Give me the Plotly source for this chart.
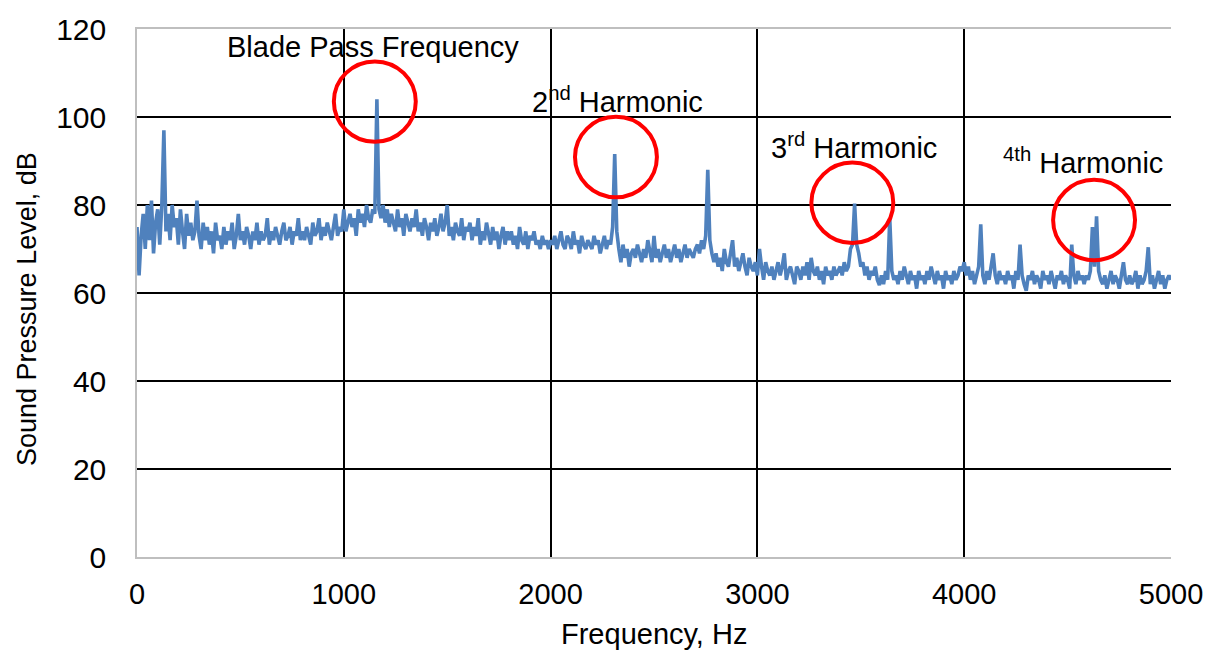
import plotly.graph_objects as go

# Frequency grid step (Hz) and SPL values (dB), 0..5000 Hz
df = 10
spl_0_990 = [
    75, 64, 73, 78, 70, 80, 72, 81, 69, 76, 79, 71, 80, 97, 74, 78, 72, 80, 75, 77,
    71, 79, 74, 70, 78, 73, 76, 72, 74, 81, 73, 70, 76, 72, 75, 71, 74, 69, 76, 72,
    73, 70, 75, 71, 74, 72, 76, 70, 73, 78, 72, 74, 71, 75, 73, 70, 74, 72, 76, 71,
    74, 72, 73, 77, 71, 74, 72, 75, 73, 71, 74, 76, 72, 73, 75, 71, 74, 73, 77, 72,
    74, 72, 75, 73, 71, 76, 73, 74, 77, 72, 75, 73, 76, 74, 72, 75, 78, 73, 75, 74,
]
spl_1000_1990 = [
    79, 74, 76, 78, 75, 77, 73, 79, 76, 78, 75, 80, 77, 76, 79, 78, 104, 79, 77, 80,
    76, 79, 75, 78, 76, 74, 79, 75, 77, 73, 78, 76, 74, 77, 75, 79, 74, 76, 73, 77,
    75, 72, 76, 74, 77, 73, 75, 78, 74, 76, 80, 73, 75, 72, 76, 74, 73, 77, 72, 75,
    74, 76, 72, 75, 73, 77, 71, 74, 72, 76, 73, 71, 75, 72, 74, 70, 73, 75, 71, 74,
    72, 74, 71, 73, 70, 75, 72, 71, 74, 70, 73, 72, 74, 71, 72, 70, 73, 71, 72, 70,
]
spl_2000_2990 = [
    72, 71, 73, 70, 72, 74, 71, 70, 73, 72, 70, 74, 71, 72, 69, 73, 71, 70, 72, 71,
    70, 73, 71, 72, 69, 71, 73, 70, 72, 71, 75, 91.6, 74, 70, 67, 71, 68, 70, 66, 69,
    70, 68, 71, 69, 67, 70, 68, 72, 69, 67, 73, 68, 70, 67, 69, 71, 68, 70, 67, 69,
    71, 68, 70, 67, 69, 71, 68, 70, 69, 68, 70, 71, 69, 72, 70, 73, 88, 72, 69, 67,
    69, 66, 68, 65, 70, 67, 66, 69, 72, 66, 68, 65, 67, 69, 66, 64, 68, 66, 65, 67,
]
spl_3000_3990 = [
    64, 70, 66, 63, 67, 65, 64, 66, 63, 65, 67, 64, 66, 69, 63, 65, 66, 64, 62, 66,
    65, 63, 66, 64, 67, 63, 68, 65, 64, 66, 63, 65, 62, 66, 64, 65, 63, 66, 64, 65,
    66, 64, 67, 65, 66, 70, 71, 80.3, 71, 69, 66, 67, 64, 66, 63, 65, 64, 66, 63, 61.8,
    64, 62, 65, 63, 77, 65, 63, 64, 62, 65, 63, 66, 64, 62, 65, 63, 64, 61, 65, 63,
    64, 62, 65, 63, 66, 64, 62, 65, 63, 64, 61, 65, 63, 64, 62, 65, 63, 64, 66, 65,
]
spl_4000_5000 = [
    67, 64, 66, 63, 65, 62, 64, 66, 75.6, 64, 62, 65, 63, 66, 69, 64, 62, 65, 63, 64,
    62, 65, 63, 64, 61, 65, 63, 71, 64, 62, 60.5, 64, 63, 65, 62, 64, 63, 61, 65, 63,
    64, 62, 65, 63, 61, 64, 63, 65, 62, 64, 63, 61, 71, 64, 62, 65, 63, 64, 62, 64,
    63, 65, 75, 66, 77.4, 65, 63, 62, 64, 61, 63, 65, 62, 64, 63, 61, 64, 67, 63, 62,
    64, 62, 63, 65, 61, 64, 62, 63, 65, 70.4, 62, 64, 61, 63, 65, 62, 64, 61, 63, 64,
    63,
]
spl = spl_0_990 + spl_1000_1990 + spl_2000_2990 + spl_3000_3990 + spl_4000_5000
freq = [i * df for i in range(len(spl))]

x_ticks = [0, 1000, 2000, 3000, 4000, 5000]
y_ticks = [0, 20, 40, 60, 80, 100, 120]

labels = ["Blade Pass Frequency", "2<sup>nd</sup> Harmonic",
          "3<sup>rd</sup> Harmonic", "<sup>4th</sup> Harmonic"]
label_x = [425, 1899, 3058, 4179]
label_y = [115.9, 103.8, 93.5, 89.9]

circle_cx = [1150, 2316, 3459, 4628]
circle_cy = [103.5, 90.9, 80.5, 76.6]

FONT = "Arial, Liberation Sans, sans-serif"
rx = 41 / 0.207     # Hz
ry = 40.5 / 4.4333  # dB

fig = go.Figure()
fig.add_trace(go.Scatter(x=freq, y=spl, mode="lines",
                         line=dict(color="#4F81BD", width=3.6),
                         showlegend=False))

for cx, cy in zip(circle_cx, circle_cy):
    fig.add_shape(type="circle", xref="x", yref="y",
                  x0=cx - rx, x1=cx + rx, y0=cy - ry, y1=cy + ry,
                  line=dict(color="#FF0000", width=4))

for t, x, y in zip(labels, label_x, label_y):
    fig.add_annotation(x=x, y=y, xref="x", yref="y", text=t, showarrow=False,
                       xanchor="left", yanchor="middle",
                       font=dict(family=FONT, size=29, color="#000000"))

fig.add_annotation(x=(27 - 137) / 1035, y=(557 - 307) / 532, xref="paper", yref="paper",
                   text="Sound Pressure Level, dB", textangle=-90, showarrow=False,
                   xanchor="center", yanchor="middle",
                   font=dict(family=FONT, size=27, color="#000000"))
fig.add_annotation(x=0.5, y=(557 - 635) / 532, xref="paper", yref="paper",
                   text="Frequency, Hz", showarrow=False,
                   xanchor="center", yanchor="middle",
                   font=dict(family=FONT, size=29, color="#000000"))

fig.update_layout(
    width=1215, height=652,
    margin=dict(l=137, r=43, t=25, b=95),
    paper_bgcolor="white", plot_bgcolor="white",
    font=dict(family=FONT, color="#000000"),
)
fig.update_xaxes(range=[0, 5000], tickvals=x_ticks, ticktext=[str(v) for v in x_ticks],
                 showgrid=True, gridcolor="#000000", gridwidth=1.5,
                 zeroline=False, showline=True, linecolor="#BFBFBF", linewidth=1.5,
                 mirror=True, ticks="", ticklabelstandoff=10,
                 tickfont=dict(family=FONT, size=29, color="#000000"))
fig.update_yaxes(range=[0, 120], tickvals=y_ticks, ticktext=[str(v) for v in y_ticks],
                 showgrid=True, gridcolor="#000000", gridwidth=1.5,
                 zeroline=False, showline=True, linecolor="#BFBFBF", linewidth=1.5,
                 mirror=False, ticks="", ticklabelstandoff=23,
                 tickfont=dict(family=FONT, size=30, color="#000000"))

fig.write_html("out.html", config={"displayModeBar": False},
               post_script="document.body.style.margin='0';document.body.style.overflow='hidden';")
